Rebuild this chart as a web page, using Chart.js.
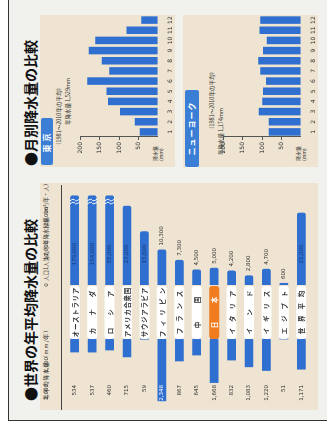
<!DOCTYPE html>
<html lang="ja">
<head>
  <meta charset="UTF-8">
  <title>世界の年平均降水量の比較・月別降水量の比較</title>
  <script src="https://cdn.jsdelivr.net/npm/chart.js"></script>
  <style>
    body {
      margin: 0;
      background: #ffffff;
      width: 327px;
      height: 432px;
      overflow: hidden;
      font-family: 'Noto Sans CJK JP', 'Noto Sans', sans-serif;
      color: #222;
    }
    /* the sheet is laid out upright (432x327) and turned a quarter to the left */
    #page {
      position: absolute;
      left: 0;
      top: 0;
      width: 432px;
      height: 327px;
      transform-origin: 0 0;
      transform: translate(0, 432px) rotate(-90deg);
    }
    .abs { position: absolute; }
    .frame {
      left: 11px; top: 8px; width: 430px; height: 330px;
      border-left: 1.5px solid #333;
      border-top: 1.5px solid #333;
      background: #f1f1ee;
    }
    .panel { background: #eee4d1; }
    .title {
      font-size: 14px;
      font-weight: bold;
      line-height: 16px;
      white-space: nowrap;
      color: #111;
    }
    .tag {
      background: #3a7ed6;
      color: #fff;
      font-weight: bold;
      font-size: 8px;
      line-height: 12px;
      text-align: center;
      border-radius: 2px;
      letter-spacing: 3px;
    }
    .small {
      font-size: 5.5px;
      line-height: 7px;
      white-space: nowrap;
      color: #333;
    }
    .rule { background: #444; height: 1.2px; }
    canvas { position: absolute; }
  </style>
</head>
<body>
<div id="page">
  <div class="abs frame"></div>

  <div class="abs title" style="left:31px; top:22px;">●世界の年平均降水量の比較</div>
  <div class="abs title" style="left:266px; top:22px;">●月別降水量の比較</div>

  <!-- world comparison -->
  <div class="abs panel" style="left:22px; top:40px; width:227px; height:278px;"></div>
  <div class="abs small" style="left:32px; top:43px; letter-spacing:1px;">年平均降水量（mm/年）</div>
  <div class="abs small" style="left:151px; top:43px;">人口1人当たり年降水総量（m³/年・人）</div>
  <div class="abs rule" style="left:22px; top:61px; width:225px;"></div>
  <canvas id="rainChart" width="72" height="278" style="left:22px; top:40px;"></canvas>
  <canvas id="personChart" width="150" height="278" style="left:92px; top:40px;"></canvas>

  <!-- Tokyo -->
  <div class="abs panel" style="left:265px; top:40px; width:152px; height:135px;"></div>
  <div class="abs tag" style="left:267px; top:41px; width:47px;">東京</div>
  <div class="abs small" style="left:284px; top:56px;">（1981～2010年の平均）</div>
  <div class="abs small" style="left:307px; top:65px;">年降水量 1,529mm</div>
  <div class="abs small" style="left:271px; top:152px; font-size:5px; line-height:6px;">降水量<br>(mm)</div>
  <canvas id="tokyoChart" width="153" height="100" style="left:265px; top:75px;"></canvas>

  <!-- New York -->
  <div class="abs panel" style="left:265px; top:183px; width:152px; height:135px;"></div>
  <div class="abs tag" style="left:265px; top:185px; width:77px; height:14px; line-height:14px; letter-spacing:1px;">ニューヨーク</div>
  <div class="abs small" style="left:300px; top:209px;">（1981～2010年の平均）</div>
  <div class="abs small" style="left:277px; top:218px;">年降水量 1,174mm</div>
  <div class="abs small" style="left:271px; top:295px; font-size:5px; line-height:6px;">降水量<br>(mm)</div>
  <canvas id="nyChart" width="153" height="100" style="left:265px; top:218px;"></canvas>
</div>

<script>
  // ---- data ----
  const countries = ['オーストラリア', 'カナダ', 'ロシア', 'アメリカ合衆国', 'サウジアラビア', 'フィリピン',
    'フランス', '中国', '日本', 'イタリア', 'インド', 'イギリス', 'エジプト', '世界平均'];
  const rainfall = [534, 537, 460, 715, 59, 2348, 867, 645, 1668, 832, 1083, 1220, 51, 1171];      // mm/年
  const perPerson = [179000, 154000, 55000, 23000, 15600, 10300, 7300, 4500, 5000, 4200, 2800, 4700, 600, 21000]; // m³/年・人
  const rainTicks = [0, 1000, 2000];
  const personTicks = [0, 10000, 20000];

  const months = ['1', '2', '3', '4', '5', '6', '7', '8', '9', '10', '11', '12'];
  const tokyoRain = [47, 60, 98, 129, 133, 183, 126, 145, 179, 162, 81, 43];
  const nyRain = [83, 83, 109, 100, 98, 90, 105, 110, 98, 88, 107, 105];
  const monthTicks = [50, 100, 150, 200];

  const BLUE = '#2f6fcf';
  const BREAK_AT = 26000;   // bars longer than this are drawn broken
  const fmt = v => v.toLocaleString('en-US');

  Chart.defaults.font.family = "'DejaVu Sans', 'Noto Sans CJK JP', sans-serif";
  Chart.defaults.color = '#333';

  function keepTicks(list) {
    return s => { s.ticks = list.map(v => ({ value: v })); };
  }

  // annual rainfall, bars grow to the left
  const rainLabels = {
    id: 'rainLabels',
    afterDatasetsDraw(chart) {
      const ctx = chart.ctx;
      const colX = chart.chartArea.left + 23;
      ctx.save();
      ctx.font = '5.5px "DejaVu Sans"';
      ctx.textAlign = 'right';
      ctx.textBaseline = 'middle';
      chart.getDatasetMeta(0).data.forEach((bar, i) => {
        ctx.fillStyle = bar.x < colX - 16 ? '#ffffff' : '#333';
        ctx.fillText(fmt(rainfall[i]), colX, bar.y);
      });
      ctx.restore();
    }
  };

  new Chart(document.getElementById('rainChart'), {
    type: 'bar',
    data: {
      labels: countries,
      datasets: [{
        data: rainfall,
        backgroundColor: BLUE,
        borderRadius: 2,
        borderSkipped: 'end',
        barPercentage: 0.5,
        categoryPercentage: 1
      }]
    },
    options: {
      indexAxis: 'y',
      responsive: false,
      animation: false,
      layout: { padding: { left: 2, bottom: 8 } },
      plugins: { legend: { display: false }, tooltip: { enabled: false } },
      scales: {
        x: {
          position: 'top', reverse: true, min: 0, max: 2600,
          grid: { display: false }, border: { display: false },
          ticks: { font: { size: 5.5 }, padding: 8, callback: v => fmt(v), maxRotation: 0 },
          afterBuildTicks: keepTicks(rainTicks),
          afterFit: s => { s.height = 26; }
        },
        y: { display: false }
      }
    },
    plugins: [rainLabels]
  });

  // per person total, country names in the middle column
  const personMarks = {
    id: 'personMarks',
    afterDatasetsDraw(chart) {
      const ctx = chart.ctx;
      const xs = chart.scales.x, ys = chart.scales.y;
      ctx.save();
      chart.getDatasetMeta(0).data.forEach((bar, i) => {
        const v = perPerson[i];
        if (v > BREAK_AT) {
          const bx = xs.getPixelForValue(BREAK_AT - 2200);
          ctx.strokeStyle = '#ffffff';
          ctx.lineWidth = 1;
          for (const dx of [0, 3]) {
            ctx.beginPath();
            ctx.moveTo(bx + dx - 1, bar.y - 5);
            ctx.quadraticCurveTo(bx + dx + 2, bar.y - 1, bx + dx, bar.y);
            ctx.quadraticCurveTo(bx + dx - 2, bar.y + 1, bx + dx + 1, bar.y + 5);
            ctx.stroke();
          }
        }
        ctx.font = '5.5px "DejaVu Sans"';
        ctx.textBaseline = 'middle';
        if (v >= 15000) {
          ctx.fillStyle = '#163a78';
          ctx.textAlign = 'center';
          ctx.fillText(fmt(v), xs.getPixelForValue(9000), bar.y);
        } else {
          ctx.fillStyle = '#333';
          ctx.textAlign = 'left';
          ctx.fillText(fmt(v), bar.x + 4, bar.y);
        }
      });

      // name boxes
      const left = ys.left + 1, right = ys.right - 1;
      countries.forEach((name, i) => {
        const cy = ys.getPixelForValue(i);
        const japan = name === '日本';
        ctx.fillStyle = japan ? '#f07c1f' : '#ffffff';
        ctx.beginPath();
        ctx.roundRect(left, cy - 5, right - left, 10, 3);
        ctx.fill();
        ctx.fillStyle = japan ? '#ffffff' : '#333';
        ctx.font = 'bold 6.5px "Noto Sans CJK JP"';
        ctx.textAlign = 'center';
        const chars = [...name];
        const pad = chars.length <= 2 ? 14 : chars.length <= 4 ? 8 : 5;
        const x0 = left + pad, x1 = right - pad;
        chars.forEach((c, k) => {
          const x = chars.length === 1 ? (x0 + x1) / 2 : x0 + (x1 - x0) * k / (chars.length - 1);
          ctx.fillText(c, x, cy + 0.5);
        });
      });
      ctx.restore();
    }
  };

  new Chart(document.getElementById('personChart'), {
    type: 'bar',
    data: {
      labels: countries,
      datasets: [{
        data: perPerson.map(v => Math.min(v, BREAK_AT)),
        backgroundColor: BLUE,
        borderRadius: 2,
        borderSkipped: 'start',
        barPercentage: 0.5,
        categoryPercentage: 1
      }]
    },
    options: {
      indexAxis: 'y',
      responsive: false,
      animation: false,
      layout: { padding: { right: 2, bottom: 8 } },
      plugins: { legend: { display: false }, tooltip: { enabled: false } },
      scales: {
        x: {
          position: 'top', min: 0, max: 27000,
          grid: { display: false }, border: { display: false },
          ticks: { font: { size: 5.5 }, padding: 8, callback: v => fmt(v), maxRotation: 0 },
          afterBuildTicks: keepTicks(personTicks),
          afterFit: s => { s.height = 26; }
        },
        y: {
          grid: { display: false }, border: { display: false },
          ticks: { display: false },
          afterFit: s => { s.width = 55; }
        }
      }
    },
    plugins: [personMarks]
  });

  function monthChart(id, values) {
    return new Chart(document.getElementById(id), {
      type: 'bar',
      data: {
        labels: months,
        datasets: [{ data: values, backgroundColor: BLUE, barPercentage: 0.74, categoryPercentage: 1 }]
      },
      options: {
        responsive: false,
        animation: false,
        layout: { padding: { top: 4, right: 1 } },
        plugins: { legend: { display: false }, tooltip: { enabled: false } },
        scales: {
          x: {
            grid: { display: false }, border: { display: false },
            ticks: { font: { size: 6 }, padding: 1, maxRotation: 0, autoSkip: false }
          },
          y: {
            min: 0, max: 200,
            grid: { drawOnChartArea: false, tickLength: 3, color: '#555' },
            border: { color: '#555' },
            ticks: { font: { size: 6 }, padding: 2 },
            afterBuildTicks: keepTicks(monthTicks),
            afterFit: s => { s.width = 30; }
          }
        }
      }
    });
  }

  monthChart('tokyoChart', tokyoRain);
  monthChart('nyChart', nyRain);
</script>
</body>
</html>
